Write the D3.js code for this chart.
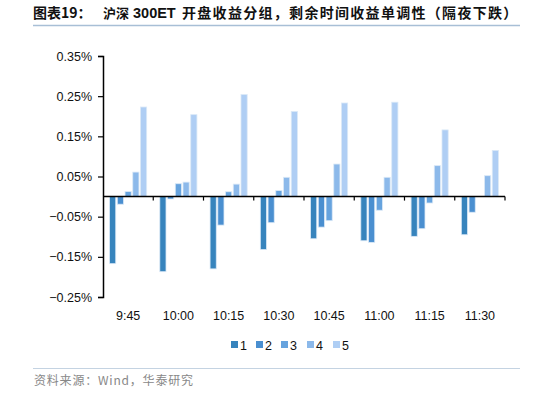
<!DOCTYPE html>
<html><head><meta charset="utf-8">
<script src="https://cdn.jsdelivr.net/npm/d3@7"></script>
<style>body{margin:0;background:#fff;}svg{display:block;font-family:"Liberation Sans",Arial,sans-serif;}</style>
</head><body><svg id="c" width="534" height="393"></svg>
<script>
const categories = ["9:45","10:00","10:15","10:30","10:45","11:00","11:15","11:30"];
const seriesNames = ["1","2","3","4","5"];
const s1 = [-0.167,-0.187,-0.180,-0.132,-0.105,-0.110,-0.099,-0.095];
const s2 = [-0.019,-0.006,-0.071,-0.065,-0.076,-0.114,-0.080,-0.039];
const s3 = [0.0125,0.032,0.012,0.015,-0.060,-0.034,-0.016,0.0];
const s4 = [0.061,0.036,0.031,0.048,0.081,0.048,0.077,0.052];
const s5 = [0.223,0.204,0.254,0.212,0.233,0.235,0.166,0.115];
const yTicks = [0.35,0.25,0.15,0.05,-0.05,-0.15,-0.25];
const colors = ["#3784bd","#4a8fd0","#66a3de","#8cb9ea","#afcef4"];
const series = [s1,s2,s3,s4,s5];

const svg = d3.select("#c");
const L=103, R=505, T=56, B=297;
const x = d3.scaleBand().domain(categories).range([L,R]).paddingInner(0).paddingOuter(0);
const xi = d3.scaleBand().domain(seriesNames).range([0,x.bandwidth()]).paddingOuter(0.85).paddingInner(0.2);
const y = d3.scaleLinear().domain([-0.25,0.35]).range([B,T]);

// title
const cjk = "'Noto Sans CJK SC',sans-serif";
const tt = svg.append("text").attr("y",18).attr("font-size",14).attr("font-weight","bold")
  .attr("font-family",cjk).attr("fill","#111");
tt.append("tspan").attr("x",33).text("图表19：");
tt.append("tspan").attr("x",103).attr("font-size",13).text("沪深");
tt.append("tspan").attr("x",133).attr("font-family","'Liberation Sans',Arial,sans-serif").attr("font-size",14.5).text("300ET");
tt.append("tspan").attr("x",182).attr("letter-spacing",1.3).text("开盘收益分组，剩余时间收益单调性（隔夜下跌）");
svg.append("line").attr("x1",33).attr("x2",520).attr("y1",25.5).attr("y2",25.5).attr("stroke","#a8bfd6").attr("stroke-width",1.5);

// bars
const g = svg.append("g");
series.forEach((s,si)=>{
  g.selectAll(null).data(s).enter().append("rect")
    .attr("x",(d,i)=>x(categories[i])+xi(seriesNames[si]))
    .attr("width",xi.bandwidth())
    .attr("y",d=>y(Math.max(0,d)))
    .attr("height",d=>Math.abs(y(d)-y(0)))
    .attr("fill",colors[si])
    .attr("stroke","#dbe9f7").attr("stroke-width",0.8);
});

// y axis
const ya = svg.append("g").attr("transform",`translate(${L},0)`)
  .call(d3.axisLeft(y).tickValues(yTicks).tickSize(5).tickFormat(d=>d3.format(".2f")(d)+"%"));
ya.select(".domain").attr("stroke","#000").attr("stroke-width",1.5);
ya.selectAll(".tick line").attr("stroke","#000").attr("stroke-width",1.2);
ya.selectAll(".tick text").attr("font-size",12.5).attr("fill","#111").attr("x",-11);

// x zero axis
const xa = svg.append("g").attr("transform",`translate(0,${y(0)})`);
xa.append("line").attr("x1",L).attr("x2",R).attr("y1",0).attr("y2",0).attr("stroke","#000").attr("stroke-width",1.5);
const bounds = categories.map(c=>x(c)).concat([R]);
xa.selectAll(null).data(bounds.slice(1)).enter().append("line")
  .attr("x1",d=>d).attr("x2",d=>d).attr("y1",0).attr("y2",4).attr("stroke","#000").attr("stroke-width",1.2);

// x labels
svg.selectAll(null).data(categories).enter().append("text")
  .attr("x",d=>x(d)+x.bandwidth()/2).attr("y",320).attr("text-anchor","middle")
  .attr("font-size",12.5).attr("fill","#111").text(d=>d);

// legend
const lg = svg.append("g");
const lx = [231,256,281,307,333];
seriesNames.forEach((n,i)=>{
  lg.append("rect").attr("x",lx[i]).attr("y",341).attr("width",7).attr("height",7).attr("fill",colors[i]);
  lg.append("text").attr("x",lx[i]+9).attr("y",349.5).attr("font-size",12.5).attr("fill","#111").text(n);
});

// source
svg.append("line").attr("x1",33).attr("x2",520).attr("y1",368.5).attr("y2",368.5).attr("stroke","#c4d3e2").attr("stroke-width",1.2);
svg.append("text").attr("x",34).attr("y",385).attr("font-size",12).attr("letter-spacing",0.8).attr("fill","#888")
  .attr("font-family",cjk).text("资料来源：Wind，华泰研究");
</script></body></html>
